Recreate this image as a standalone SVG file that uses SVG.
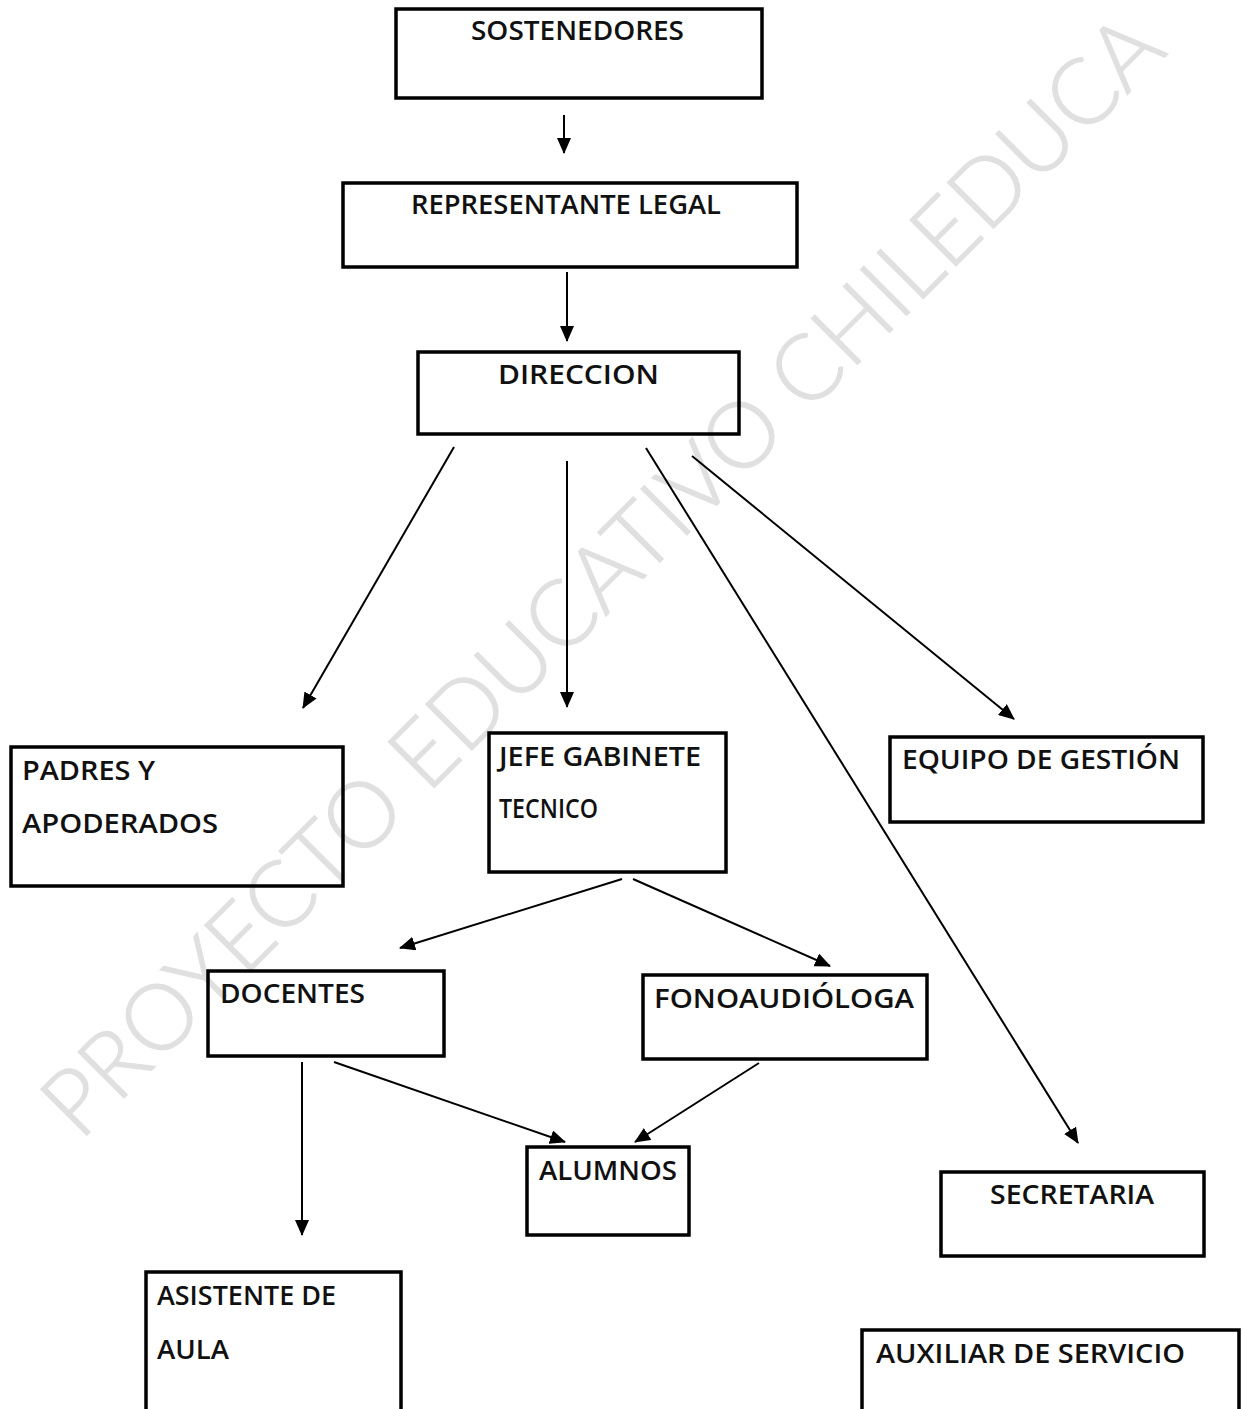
<svg xmlns="http://www.w3.org/2000/svg" width="1243" height="1409" viewBox="0 0 1243 1409">
<style>
.box{fill:none;stroke:#000;stroke-width:3.5}
.lbl{font-family:"Open Sans","DejaVu Sans",sans-serif;font-weight:600;font-size:27px;fill:#111}
.con{stroke:#000;stroke-width:2;fill:none;marker-end:url(#ah)}
.wm{font-family:Lato,"DejaVu Sans",sans-serif;font-weight:300;font-size:92px;fill:#e0e0e0;stroke:#e0e0e0;stroke-width:1.2}
</style>
<defs>
<marker id="ah" markerUnits="userSpaceOnUse" markerWidth="16" markerHeight="14" refX="15" refY="7" orient="auto">
<path d="M0,0 L16,7 L0,14 Z" fill="#000"/>
</marker>
</defs>
<rect width="1243" height="1409" fill="#fff"/>
<text class="wm" transform="translate(80,1142) rotate(-45)" textLength="1540" lengthAdjust="spacingAndGlyphs">PROYECTO EDUCATIVO CHILEDUCA</text>

<g id="connectors">
<line class="con" x1="564" y1="115" x2="564" y2="153"/>
<line class="con" x1="567" y1="272" x2="567" y2="341"/>
<line class="con" x1="454" y1="447" x2="303" y2="708"/>
<line class="con" x1="567" y1="461" x2="567" y2="707"/>
<line class="con" x1="646" y1="448" x2="1078" y2="1143"/>
<line class="con" x1="692" y1="456" x2="1014" y2="719"/>
<line class="con" x1="622" y1="879" x2="400" y2="948"/>
<line class="con" x1="633" y1="879" x2="830" y2="966"/>
<line class="con" x1="302" y1="1062" x2="302" y2="1235"/>
<line class="con" x1="334" y1="1062" x2="565" y2="1142"/>
<line class="con" x1="759" y1="1063" x2="635" y2="1142"/>
</g>

<g id="sostenedores"><rect class="box" x="396" y="9" width="366" height="89"/><text class="lbl" x="471" y="40" textLength="213" lengthAdjust="spacingAndGlyphs">SOSTENEDORES</text></g>
<g id="representante"><rect class="box" x="343" y="183" width="454" height="84"/><text class="lbl" x="411" y="214" textLength="310" lengthAdjust="spacingAndGlyphs">REPRESENTANTE LEGAL</text></g>
<g id="direccion"><rect class="box" x="418" y="352" width="321" height="82"/><text class="lbl" x="498" y="384" textLength="161" lengthAdjust="spacingAndGlyphs">DIRECCION</text></g>
<g id="padres"><rect class="box" x="11" y="747" width="332" height="139"/><text class="lbl" x="22" y="780" textLength="133" lengthAdjust="spacingAndGlyphs">PADRES Y</text><text class="lbl" x="22" y="833" textLength="196" lengthAdjust="spacingAndGlyphs">APODERADOS</text></g>
<g id="jefe"><rect class="box" x="489" y="733" width="237" height="139"/><text class="lbl" x="499" y="766" textLength="202" lengthAdjust="spacingAndGlyphs">JEFE GABINETE</text><text class="lbl" x="499" y="818" textLength="99" lengthAdjust="spacingAndGlyphs">TECNICO</text></g>
<g id="equipo"><rect class="box" x="890" y="737" width="313" height="85"/><text class="lbl" x="902" y="769" textLength="278" lengthAdjust="spacingAndGlyphs">EQUIPO DE GESTIÓN</text></g>
<g id="docentes"><rect class="box" x="208" y="971" width="236" height="85"/><text class="lbl" x="220" y="1003" textLength="145" lengthAdjust="spacingAndGlyphs">DOCENTES</text></g>
<g id="fono"><rect class="box" x="643" y="975" width="284" height="84"/><text class="lbl" x="654" y="1008" textLength="260" lengthAdjust="spacingAndGlyphs">FONOAUDIÓLOGA</text></g>
<g id="alumnos"><rect class="box" x="527" y="1147" width="162" height="88"/><text class="lbl" x="539" y="1180" textLength="138" lengthAdjust="spacingAndGlyphs">ALUMNOS</text></g>
<g id="secretaria"><rect class="box" x="941" y="1172" width="263" height="84"/><text class="lbl" x="990" y="1204" textLength="164" lengthAdjust="spacingAndGlyphs">SECRETARIA</text></g>
<g id="asistente"><rect class="box" x="146" y="1272" width="255" height="160"/><text class="lbl" x="157" y="1305" textLength="179" lengthAdjust="spacingAndGlyphs">ASISTENTE DE</text><text class="lbl" x="157" y="1359" textLength="72" lengthAdjust="spacingAndGlyphs">AULA</text></g>
<g id="auxiliar"><rect class="box" x="862" y="1330" width="377" height="100"/><text class="lbl" x="876" y="1363" textLength="309" lengthAdjust="spacingAndGlyphs">AUXILIAR DE SERVICIO</text></g>
</svg>
